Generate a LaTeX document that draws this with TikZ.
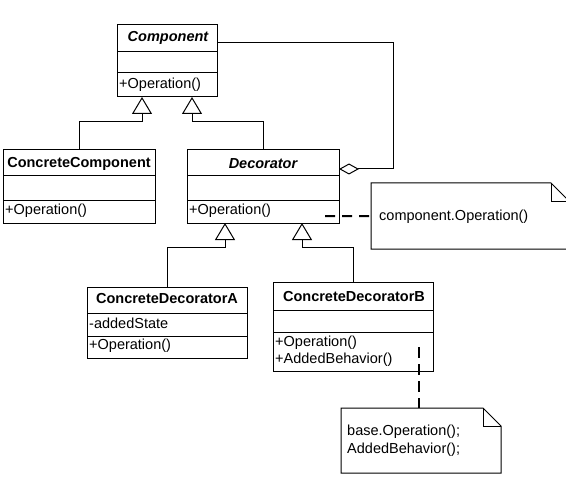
\documentclass[tikz,border=0pt]{standalone}
\usepackage{fontspec}
\setmainfont{Liberation Sans}
\usetikzlibrary{arrows.meta}
\begin{document}
\begin{tikzpicture}[x=1bp,y=-1bp,
  every node/.style={font=\fontsize{14.5bp}{18bp}\selectfont},
  cls/.style={draw, line width=1bp, inner sep=0pt, outer sep=0pt, anchor=north west, fill=white},
  cname/.style={font=\fontsize{14.5bp}{18bp}\selectfont\bfseries, inner sep=0pt},
  member/.style={anchor=west, inner sep=0pt},
  sep/.style={line width=1bp},
  inherit/.style={line width=1bp, -{Triangle[open, length=17bp, width=20bp, line width=1bp]}},
  aggr/.style={line width=1bp, -{Diamond[open, length=20bp, width=11bp, line width=1bp]}},
  notebox/.style={inner sep=0pt, outer sep=0pt, anchor=north west},
  noteline/.style={line width=1bp, fill=white},
  anchorline/.style={line width=2bp, dash pattern=on 11bp off 6bp},
]
\path[use as bounding box, clip] (0,0) rectangle (566,490);
\fill[white] (0,0) rectangle (566,490);

% Component
\node[cls, minimum width=100bp, minimum height=72bp] (comp) at (117,25) {};
\draw[sep] (117,52) -- (217,52);
\draw[sep] (117,73) -- (217,73);
\node[cname, font=\fontsize{14.5bp}{18bp}\selectfont\bfseries\itshape] (compn) at (168,38) {Component};
\node[member] (compo) at (119,85) {+Operation()};

% ConcreteComponent
\node[cls, minimum width=152bp, minimum height=73bp] (cc) at (3,150) {};
\draw[sep] (3,176) -- (155,176);
\draw[sep] (3,201) -- (155,201);
\node[cname] (ccn) at (79,164) {ConcreteComponent};
\node[member] (cco) at (5,211) {+Operation()};

% Decorator
\node[cls, minimum width=152bp, minimum height=73bp] (dec) at (187,150) {};
\draw[sep] (187,176) -- (339,176);
\draw[sep] (187,201) -- (339,201);
\node[cname, font=\fontsize{14.5bp}{18bp}\selectfont\bfseries\itshape] (decn) at (263,164) {Decorator};
\node[member] (deco) at (189,211) {+Operation()};

% ConcreteDecoratorA
\node[cls, minimum width=160bp, minimum height=71bp] (cda) at (87,287) {};
\draw[sep] (87,313) -- (247,313);
\draw[sep] (87,336) -- (247,336);
\node[cname] (cdan) at (167,299) {ConcreteDecoratorA};
\node[member] (cdaa) at (89,323) {-addedState};
\node[member] (cdao) at (89,346) {+Operation()};

% ConcreteDecoratorB
\node[cls, minimum width=160bp, minimum height=89bp] (cdb) at (273,282) {};
\draw[sep] (273,310) -- (433,310);
\draw[sep] (273,332) -- (433,332);
\node[cname] (cdbn) at (354,297) {ConcreteDecoratorB};
\node[member] (cdbo) at (275,343) {+Operation()};
\node[member] (cdbb) at (275,360) {+AddedBehavior()};

% Note 1
\node[notebox, minimum width=199bp, minimum height=66bp] (note1) at (371,183) {};
\draw[noteline] (note1.north west) -- ++(180,0) -- ++(19,19) |- (note1.south west) -- cycle;
\draw[line width=1bp] ([xshift=-19bp]note1.north east) -- ++(0,19) -- ++(19,0);
\node[member] (note1t) at (379,217) {component.Operation()};

% Note 2
\node[notebox, minimum width=160bp, minimum height=65bp] (note2) at (341,408) {};
\draw[noteline] (note2.north west) -- ++(142,0) -- ++(18,18) |- (note2.south west) -- cycle;
\draw[line width=1bp] ([xshift=-18bp]note2.north east) -- ++(0,18) -- ++(18,0);
\node[member, align=left] (note2t) at (347,441) {base.Operation();\\AddedBehavior();};

% Inheritance
\draw[inherit] (cc.north) -- ++(0,-28) -| ([xshift=-25bp]comp.south);
\draw[inherit] (dec.north) -- ++(0,-28) -| ([xshift=25bp]comp.south);
\draw[inherit] (cda.north) -- ++(0,-40) -| ([xshift=-38bp]dec.south);
\draw[inherit] (cdb.north) -- ++(0,-35) -| ([xshift=39bp]dec.south);

% Aggregation
\draw[aggr] ([yshift=-18bp]comp.north east) -- ++(176,0) |- ([yshift=-19bp]dec.north east);

% Note anchors
\coordinate (d1) at (325,216);
\coordinate (d2) at (419,347);
\draw[anchorline, dash pattern=on 10bp off 7bp] (d1) -- (note1.west);
\draw[anchorline] (d2) -- (d2 |- note2.north);
\end{tikzpicture}
\end{document}
